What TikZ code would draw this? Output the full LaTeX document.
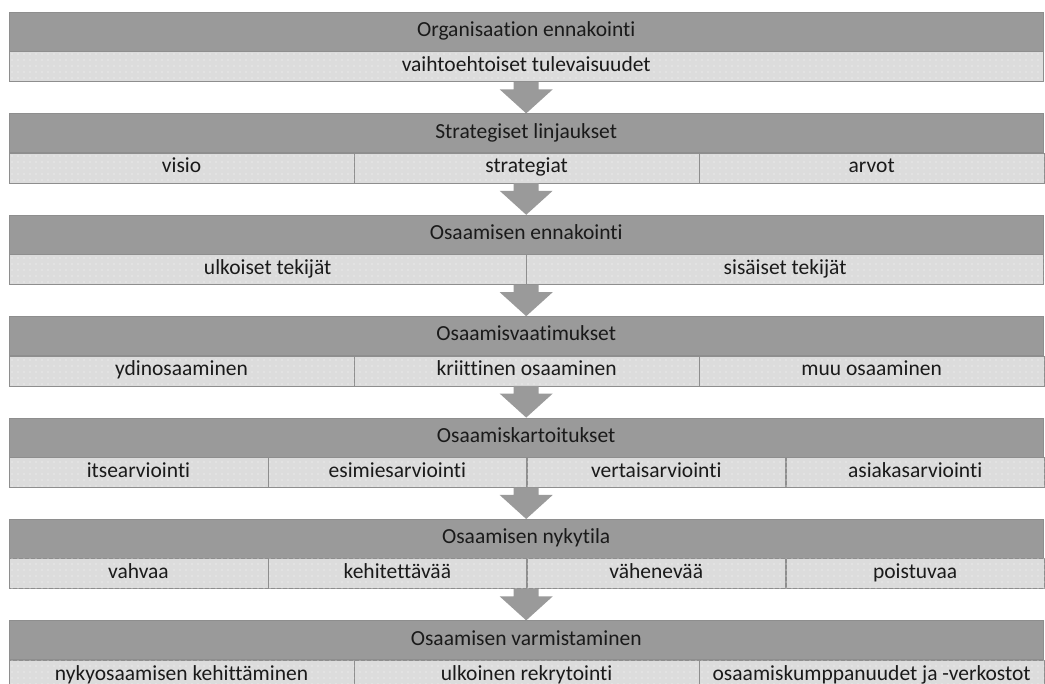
\documentclass[tikz,border=0pt]{standalone}
\usepackage{fontspec}
\setmainfont{Carlito}[Ligatures=NoCommon]
\usetikzlibrary{positioning}
\usetikzlibrary{patterns.meta}
\definecolor{headgray}{HTML}{9A9A9A}
\definecolor{cellgray}{HTML}{DCDCDC}
\definecolor{edgegray}{HTML}{8E8E8E}
\definecolor{textgray}{HTML}{1A1A1A}
\tikzset {
  % dark title bar of each step
  band head/.style = {
    draw = edgegray,
    fill = headgray,
    text = textgray,
    minimum width = 1034pt,
    minimum height = 39pt,
    text height = 14pt,
    text depth = 4pt,
    inner sep = 0,
    font = \fontsize{21.5}{25}\selectfont
  },
  % light cell under the title bar
  band cell/.style = {
    draw = edgegray,
    fill = cellgray,
    text = textgray,
    postaction = {
      pattern = {Dots[distance=6pt, radius=0.55pt]},
      pattern color = white!75!cellgray
    },
    minimum width = #1,
    minimum height = 30pt,
    text height = 14pt,
    text depth = 4pt,
    inner sep = 0,
    font = \fontsize{21.5}{25}\selectfont
  },
  band cell/.default = 1034pt,
  % wide arrow from one step to the next
  flow arrow/.style = {
    fill = headgray,
    draw = none
  },
  node distance = 31.6pt
}
% #1: bottom of a step, #2: top of the next step
\newcommand{\flowarrow}[2]{%
  \fill[flow arrow] ([xshift=-12.5pt]#1) -- ([xshift=-12.5pt,yshift=24pt]#2)
    -- ([xshift=-26.5pt,yshift=24pt]#2) -- (#2)
    -- ([xshift=26.5pt,yshift=24pt]#2) -- ([xshift=12.5pt,yshift=24pt]#2)
    -- ([xshift=12.5pt]#1) -- cycle;
}

\begin{document}
\begin{tikzpicture}[x=1pt, y=-1pt]
    \useasboundingbox (0,0) rectangle (1045,684);
    \clip (0,0) rectangle (1045,684);

    % 1
    \node[band head, anchor=north west] (h1) at (9,12) {Organisaation ennakointi};
    \node[band cell, anchor=north west] (c1a) at (h1.south west) {vaihtoehtoiset tulevaisuudet};
    \coordinate (b1) at (h1.south |- c1a.south);

    % 2
    \node[band head, below=of b1] (h2) {Strategiset linjaukset};
    \node[band cell=344.67pt, anchor=north west] (c2a) at (h2.south west) {visio};
    \node[band cell=344.67pt, right=0pt of c2a] (c2b) {strategiat};
    \node[band cell=344.67pt, right=0pt of c2b] (c2c) {arvot};
    \coordinate (b2) at (h2.south |- c2a.south);

    % 3
    \node[band head, below=of b2] (h3) {Osaamisen ennakointi};
    \node[band cell=517pt, anchor=north west] (c3a) at (h3.south west) {ulkoiset tekijät};
    \node[band cell=517pt, right=0pt of c3a] (c3b) {sisäiset tekijät};
    \coordinate (b3) at (h3.south |- c3a.south);

    % 4
    \node[band head, below=of b3] (h4) {Osaamisvaatimukset};
    \node[band cell=344.67pt, anchor=north west] (c4a) at (h4.south west) {ydinosaaminen};
    \node[band cell=344.67pt, right=0pt of c4a] (c4b) {kriittinen osaaminen};
    \node[band cell=344.67pt, right=0pt of c4b] (c4c) {muu osaaminen};
    \coordinate (b4) at (h4.south |- c4a.south);

    % 5
    \node[band head, below=of b4] (h5) {Osaamiskartoitukset};
    \node[band cell=258.5pt, anchor=north west] (c5a) at (h5.south west) {itsearviointi};
    \node[band cell=258.5pt, right=0pt of c5a] (c5b) {esimiesarviointi};
    \node[band cell=258.5pt, right=0pt of c5b] (c5c) {vertaisarviointi};
    \node[band cell=258.5pt, right=0pt of c5c] (c5d) {asiakasarviointi};
    \coordinate (b5) at (h5.south |- c5a.south);

    % 6
    \node[band head, below=of b5] (h6) {Osaamisen nykytila};
    \node[band cell=258.5pt, anchor=north west] (c6a) at (h6.south west) {vahvaa};
    \node[band cell=258.5pt, right=0pt of c6a] (c6b) {kehitettävää};
    \node[band cell=258.5pt, right=0pt of c6b] (c6c) {vähenevää};
    \node[band cell=258.5pt, right=0pt of c6c] (c6d) {poistuvaa};
    \coordinate (b6) at (h6.south |- c6a.south);

    % 7
    \node[band head, below=of b6] (h7) {Osaamisen varmistaminen};
    \node[band cell=344.67pt, anchor=north west] (c7a) at (h7.south west) {nykyosaamisen kehittäminen};
    \node[band cell=344.67pt, right=0pt of c7a] (c7b) {ulkoinen rekrytointi};
    \node[band cell=344.67pt, right=0pt of c7b] (c7c) {osaamiskumppanuudet ja -verkostot};

    \flowarrow{b1}{h2.north}
    \flowarrow{b2}{h3.north}
    \flowarrow{b3}{h4.north}
    \flowarrow{b4}{h5.north}
    \flowarrow{b5}{h6.north}
    \flowarrow{b6}{h7.north}
\end{tikzpicture}
\end{document}
